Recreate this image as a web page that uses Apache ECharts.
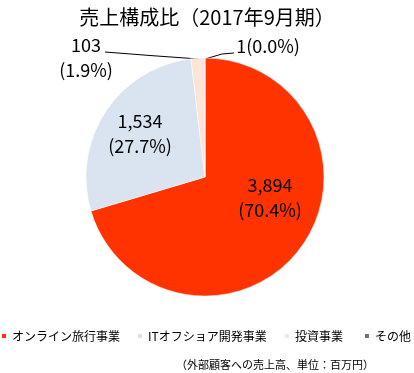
<!DOCTYPE html>
<html><head><meta charset="utf-8">
<script src="https://cdn.jsdelivr.net/npm/echarts@6/dist/echarts.min.js"></script>
<style>html,body{margin:0;padding:0;background:#fff}#c{width:414px;height:373px}</style>
</head><body><div id="c"></div>
<script>
const categories = ['オンライン旅行事業', 'ITオフショア開発事業', '投資事業', 'その他'];
const values = [3894, 1534, 103, 1];
const percents = ['70.4%', '27.7%', '1.9%', '0.0%'];
const colors = ['#FF3300', '#DAE3F0', '#FCE4D6', '#8064A2'];
const FONT = '"Noto Sans CJK JP", "Noto Sans", sans-serif';
const labelPos = [[270, 198], [140, 134], [86, 58], [268, 46]];
const linePts = [null, null, [[199, 59], [150, 55.5], [105, 52]], [[205, 59], [222, 54], [234, 53]]];
const legendLeft = [0, 136, 283, 363];

const chart = echarts.init(document.getElementById('c'));
chart.setOption({
  animation: false,
  title: {
    text: '売上構成比（2017年9月期）', left: 'center', top: 2,
    textStyle: { fontFamily: FONT, fontSize: 20, fontWeight: 'normal', color: '#000' }
  },
  legend: categories.map((c, i) => ({
    left: legendLeft[i], top: 330, padding: 0, itemWidth: 6, itemHeight: 6,
    icon: 'rect',
    textStyle: { fontFamily: FONT, fontSize: 12, color: '#000' },
    data: [c]
  })),
  graphic: [{
    type: 'text', left: 176, top: 359,
    style: { text: '（外部顧客への売上高、単位：百万円）', font: '11px ' + FONT, fill: '#000' }
  }],
  series: [{
    type: 'pie',
    center: [205, 177], radius: 119,
    startAngle: 90, clockwise: true,
    itemStyle: { borderColor: '#fff', borderWidth: 0.5 },
    label: {
      fontFamily: FONT, fontSize: 18, color: '#000', lineHeight: 25, align: 'center'
    },
    labelLine: { show: true, length: 8, length2: 30, lineStyle: { color: '#000', width: 1 } },
    labelLayout: function (p) {
      const pos = labelPos[p.dataIndex];
      const r = { x: pos[0], y: pos[1], align: 'center', verticalAlign: 'middle' };
      if (linePts[p.dataIndex]) r.labelLinePoints = linePts[p.dataIndex];
      return r;
    },
    data: categories.map((c, i) => ({
      name: c, value: values[i],
      itemStyle: { color: colors[i] },
      label: {
        position: i < 2 ? 'inside' : 'outside',
        formatter: i === 3
          ? (p) => values[3].toLocaleString('en-US') + '(' + percents[3] + ')'
          : (p) => values[p.dataIndex].toLocaleString('en-US') + '\n(' + percents[p.dataIndex] + ')'
      },
      labelLine: { show: i >= 2 }
    }))
  }]
});
</script></body></html>
